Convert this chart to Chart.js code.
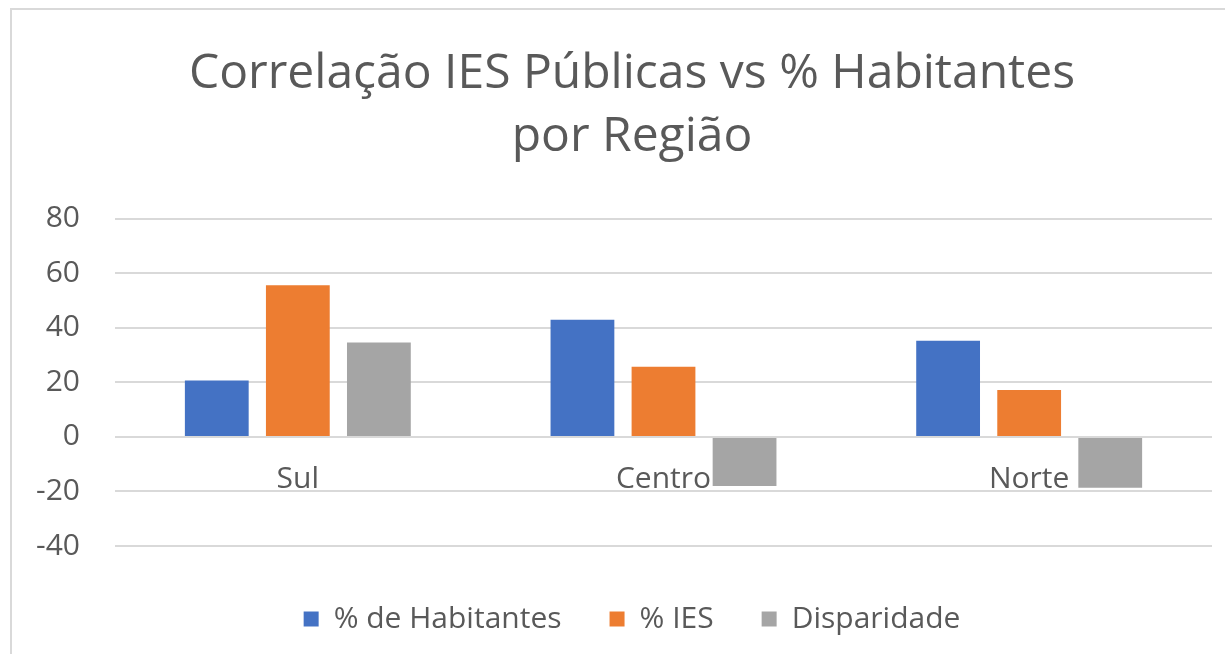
<!DOCTYPE html>
<html>
<head>
<meta charset="utf-8">
<script src="https://cdn.jsdelivr.net/npm/chart.js@4.4.0/dist/chart.umd.min.js"></script>
<style>
  html, body { margin: 0; padding: 0; background: #fff; overflow: hidden; }
  .frame {
    position: absolute;
    left: 10px;
    top: 8px;
    width: 1250px;
    height: 660px;
    border-top: 2px solid #d9d9d9;
    border-left: 2px solid #d9d9d9;
  }
  .frame canvas { display: block; }
</style>
</head>
<body>
<div class="frame">
  <canvas id="chart" width="1240" height="634"></canvas>
</div>
<script>
// Data
const categories = ['Sul', 'Centro', 'Norte'];
const habitantes = [20.7, 43.0, 35.3];
const ies = [55.6, 25.7, 17.2];
const disparidade = [34.6, -18.0, -18.6];
const yMin = -40;
const yMax = 80;
const yStep = 20;

const textColor = '#595959';
const gridColor = '#d9d9d9';
const fontFamily = "'Segoe UI', 'Open Sans', sans-serif";

Chart.defaults.font.family = fontFamily;
Chart.defaults.color = textColor;

const barStyle = {
  barPercentage: 0.787,
  categoryPercentage: 0.665,
  borderWidth: 0
};

new Chart(document.getElementById('chart').getContext('2d'), {
  type: 'bar',
  data: {
    labels: categories,
    datasets: [
      { label: '% de Habitantes', data: habitantes, backgroundColor: '#4472c4', ...barStyle },
      { label: '% IES', data: ies, backgroundColor: '#ed7d31', ...barStyle },
      { label: 'Disparidade', data: disparidade, backgroundColor: '#a5a5a5', ...barStyle }
    ]
  },
  options: {
    responsive: false,
    animation: false,
    layout: {
      padding: { top: 33, left: 0, right: 0, bottom: 0 }
    },
    plugins: {
      title: {
        display: true,
        text: ['Correlação IES Públicas vs % Habitantes', 'por Região'],
        color: textColor,
        font: { size: 48, weight: 'normal', lineHeight: 1.31 },
        padding: { top: 0, bottom: 50 }
      },
      legend: {
        position: 'bottom',
        // blank legend title: just adds a bit of room above the legend row
        title: { display: true, text: '', padding: 0, font: { size: 10, lineHeight: 1 } },
        labels: {
          color: textColor,
          font: { size: 30 },
          boxWidth: 15,
          boxHeight: 15,
          padding: 48
        }
      },
      tooltip: { enabled: false }
    },
    scales: {
      x: {
        position: { y: 0 },
        grid: { display: false, drawTicks: false },
        border: { display: false },
        ticks: { color: textColor, font: { size: 30 }, padding: 25 }
      },
      y: {
        min: yMin,
        max: yMax,
        grid: { color: gridColor, lineWidth: 2, drawTicks: false },
        border: { display: false },
        ticks: { stepSize: yStep, color: textColor, font: { size: 30 }, padding: 35 },
        afterFit: (s) => { s.width = 103; }
      },
      // empty right-hand axis, only keeps room so the title stays centred like the original
      yRight: {
        position: 'right',
        grid: { display: false, drawTicks: false },
        border: { display: false },
        ticks: { display: false },
        afterFit: (s) => { s.width = 40; }
      }
    }
  }
});
</script>
</body>
</html>
